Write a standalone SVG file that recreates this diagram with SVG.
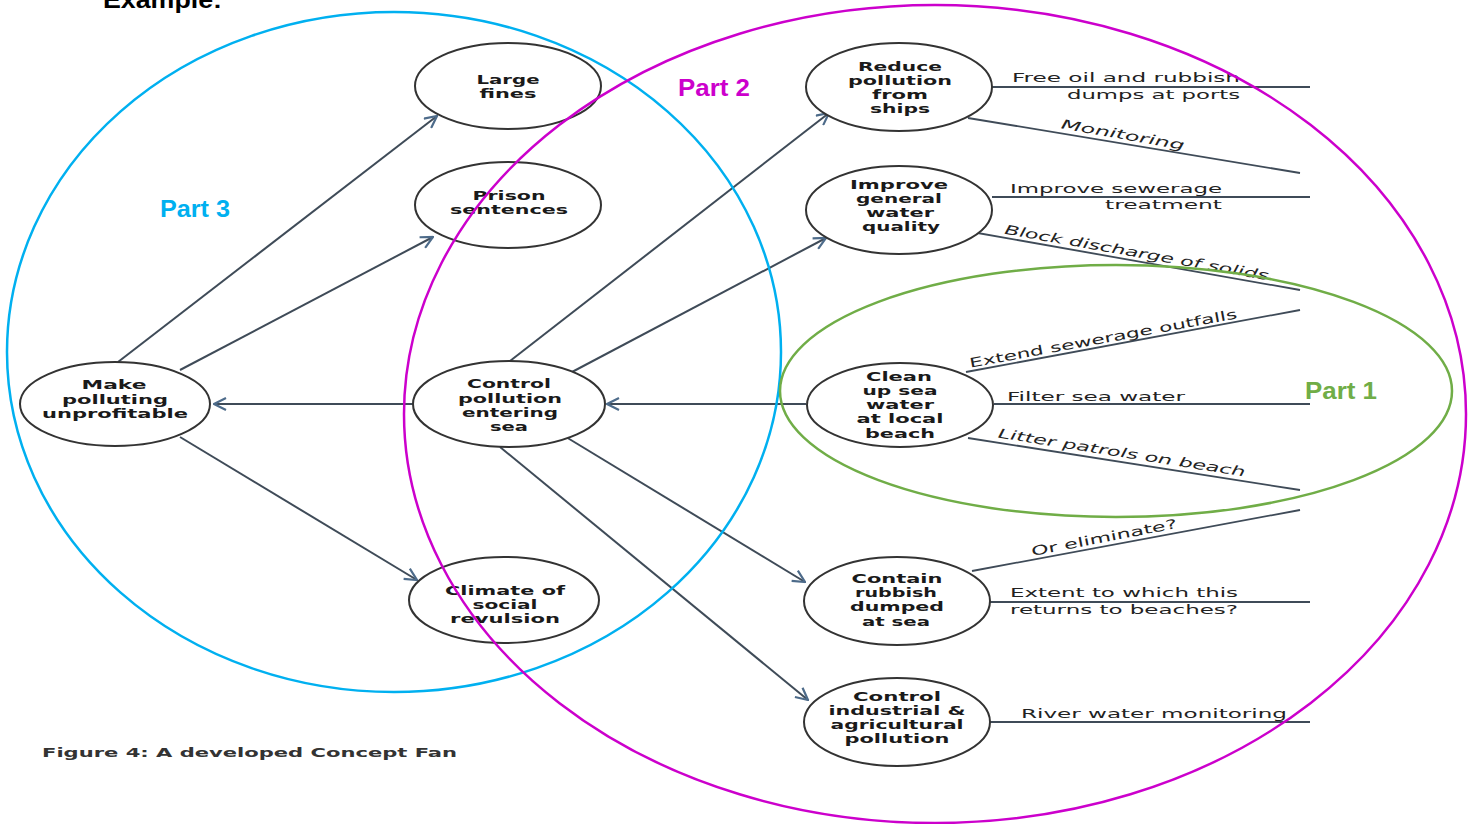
<svg xmlns="http://www.w3.org/2000/svg" width="1473" height="824" viewBox="0 0 1473 824">
<defs>
<marker id="arr" viewBox="0 0 14 14" refX="13" refY="7" markerWidth="14" markerHeight="14" markerUnits="userSpaceOnUse" orient="auto">
<path d="M1,1 L13,7 L1,13" fill="none" stroke="#4d6b8a" stroke-width="2.2"/>
</marker>
<style>
.node ellipse{fill:#fff;stroke:#333;stroke-width:2}
.node text{font-family:"DejaVu Sans",Verdana,sans-serif;font-weight:bold;font-size:13px;fill:#1a1a1a;text-anchor:middle}
.arrow{stroke:#3f4b58;stroke-width:2;fill:none;marker-end:url(#arr)}
.line{stroke:#3f4b58;stroke-width:1.8;fill:none}
.lbl{font-family:"DejaVu Sans",Verdana,sans-serif;font-size:13px;fill:#222}
.it{font-style:italic}
.region{fill:none;stroke-width:2.5}
.part{font-family:"Liberation Sans",Arial,sans-serif;font-weight:bold;font-size:24px}
</style>
</defs>
<rect width="1473" height="824" fill="#fff"/>
<text x="103" y="8" font-family="Liberation Sans,Arial,sans-serif" font-weight="bold" font-size="24" textLength="119" lengthAdjust="spacingAndGlyphs" fill="#000">Example:</text>

<g id="connectors">
<line class="arrow" x1="118" y1="362" x2="437" y2="116"/>
<line class="arrow" x1="180" y1="370" x2="433" y2="237"/>
<line class="arrow" x1="180" y1="437" x2="417" y2="580"/>
<line class="arrow" x1="413" y1="404" x2="214" y2="404"/>
<line class="arrow" x1="806" y1="404" x2="607" y2="404"/>
<line class="arrow" x1="510" y1="361" x2="829" y2="113"/>
<line class="arrow" x1="572" y1="372" x2="826" y2="238"/>
<line class="arrow" x1="566" y1="437" x2="805" y2="582"/>
<line class="arrow" x1="500" y1="447" x2="808" y2="700"/>

<line class="line" x1="991" y1="87" x2="1310" y2="87"/>
<line class="line" x1="968" y1="118" x2="1300" y2="173"/>
<line class="line" x1="992" y1="197" x2="1310" y2="197"/>
<line class="line" x1="972" y1="232" x2="1300" y2="290"/>
<line class="line" x1="966" y1="372" x2="1300" y2="310"/>
<line class="line" x1="994" y1="404" x2="1310" y2="404"/>
<line class="line" x1="968" y1="438" x2="1300" y2="490"/>
<line class="line" x1="972" y1="571" x2="1300" y2="510"/>
<line class="line" x1="990" y1="602" x2="1310" y2="602"/>
<line class="line" x1="990" y1="722" x2="1310" y2="722"/>

<text class="lbl" x="1012" y="82" textLength="228" lengthAdjust="spacingAndGlyphs">Free oil and rubbish</text>
<text class="lbl" x="1067" y="99" textLength="173" lengthAdjust="spacingAndGlyphs">dumps at ports</text>
<text class="lbl it" text-anchor="middle" transform="translate(1122,139) rotate(10)" textLength="125" lengthAdjust="spacingAndGlyphs">Monitoring</text>
<text class="lbl" x="1010" y="193" textLength="212" lengthAdjust="spacingAndGlyphs">Improve sewerage</text>
<text class="lbl" x="1105" y="209" textLength="117" lengthAdjust="spacingAndGlyphs">treatment</text>
<text class="lbl it" text-anchor="middle" transform="translate(1136,257) rotate(10)" textLength="268" lengthAdjust="spacingAndGlyphs">Block discharge of solids</text>
<text class="lbl" text-anchor="middle" transform="translate(1104,343) rotate(-10.5)" textLength="272" lengthAdjust="spacingAndGlyphs">Extend sewerage outfalls</text>
<text class="lbl" x="1007" y="401" textLength="178" lengthAdjust="spacingAndGlyphs">Filter sea water</text>
<text class="lbl it" text-anchor="middle" transform="translate(1121,457) rotate(9)" textLength="250" lengthAdjust="spacingAndGlyphs">Litter patrols on beach</text>
<text class="lbl" text-anchor="middle" transform="translate(1105,542) rotate(-11)" textLength="148" lengthAdjust="spacingAndGlyphs">Or eliminate?</text>
<text class="lbl" x="1010" y="597" textLength="228" lengthAdjust="spacingAndGlyphs">Extent to which this</text>
<text class="lbl" x="1010" y="614" textLength="228" lengthAdjust="spacingAndGlyphs">returns to beaches?</text>
<text class="lbl" x="1021" y="718" textLength="266" lengthAdjust="spacingAndGlyphs">River water monitoring</text>
</g>

<g id="n-large" class="node">
<ellipse cx="508" cy="86" rx="93" ry="43"/>
<text x="508" y="84" textLength="63" lengthAdjust="spacingAndGlyphs">Large</text>
<text x="508" y="98" textLength="57" lengthAdjust="spacingAndGlyphs">fines</text>
</g>
<g id="n-prison" class="node">
<ellipse cx="508" cy="205" rx="93" ry="43"/>
<text x="509" y="200" textLength="73" lengthAdjust="spacingAndGlyphs">Prison</text>
<text x="509" y="214" textLength="118" lengthAdjust="spacingAndGlyphs">sentences</text>
</g>
<g id="n-make" class="node">
<ellipse cx="115" cy="404" rx="95" ry="42"/>
<text x="114" y="389" textLength="65" lengthAdjust="spacingAndGlyphs">Make</text>
<text x="115" y="404" textLength="106" lengthAdjust="spacingAndGlyphs">polluting</text>
<text x="115" y="418" textLength="146" lengthAdjust="spacingAndGlyphs">unprofitable</text>
</g>
<g id="n-control" class="node">
<ellipse cx="509" cy="404" rx="96" ry="43"/>
<text x="509" y="388" textLength="84" lengthAdjust="spacingAndGlyphs">Control</text>
<text x="510" y="403" textLength="104" lengthAdjust="spacingAndGlyphs">pollution</text>
<text x="510" y="417" textLength="96" lengthAdjust="spacingAndGlyphs">entering</text>
<text x="509" y="431" textLength="38" lengthAdjust="spacingAndGlyphs">sea</text>
</g>
<g id="n-climate" class="node">
<ellipse cx="504" cy="600" rx="95" ry="43"/>
<text x="505" y="595" textLength="120" lengthAdjust="spacingAndGlyphs">Climate of</text>
<text x="505" y="609" textLength="65" lengthAdjust="spacingAndGlyphs">social</text>
<text x="505" y="623" textLength="110" lengthAdjust="spacingAndGlyphs">revulsion</text>
</g>
<g id="n-reduce" class="node">
<ellipse cx="899" cy="87" rx="93" ry="44"/>
<text x="900" y="71" textLength="84" lengthAdjust="spacingAndGlyphs">Reduce</text>
<text x="900" y="85" textLength="104" lengthAdjust="spacingAndGlyphs">pollution</text>
<text x="900" y="99" textLength="56" lengthAdjust="spacingAndGlyphs">from</text>
<text x="900" y="113" textLength="60" lengthAdjust="spacingAndGlyphs">ships</text>
</g>
<g id="n-improve" class="node">
<ellipse cx="899" cy="210" rx="93" ry="44"/>
<text x="899" y="189" textLength="98" lengthAdjust="spacingAndGlyphs">Improve</text>
<text x="899" y="203" textLength="86" lengthAdjust="spacingAndGlyphs">general</text>
<text x="900" y="217" textLength="68" lengthAdjust="spacingAndGlyphs">water</text>
<text x="901" y="231" textLength="78" lengthAdjust="spacingAndGlyphs">quality</text>
</g>
<g id="n-clean" class="node">
<ellipse cx="900" cy="405" rx="93" ry="42"/>
<text x="899" y="381" textLength="66" lengthAdjust="spacingAndGlyphs">Clean</text>
<text x="900" y="395" textLength="75" lengthAdjust="spacingAndGlyphs">up sea</text>
<text x="900" y="409" textLength="68" lengthAdjust="spacingAndGlyphs">water</text>
<text x="900" y="423" textLength="87" lengthAdjust="spacingAndGlyphs">at local</text>
<text x="900" y="438" textLength="70" lengthAdjust="spacingAndGlyphs">beach</text>
</g>
<g id="n-contain" class="node">
<ellipse cx="897" cy="601" rx="93" ry="44"/>
<text x="897" y="583" textLength="91" lengthAdjust="spacingAndGlyphs">Contain</text>
<text x="896" y="597" textLength="82" lengthAdjust="spacingAndGlyphs">rubbish</text>
<text x="897" y="611" textLength="94" lengthAdjust="spacingAndGlyphs">dumped</text>
<text x="896" y="626" textLength="68" lengthAdjust="spacingAndGlyphs">at sea</text>
</g>
<g id="n-industrial" class="node">
<ellipse cx="897" cy="722" rx="93" ry="44"/>
<text x="897" y="701" textLength="88" lengthAdjust="spacingAndGlyphs">Control</text>
<text x="897" y="715" textLength="137" lengthAdjust="spacingAndGlyphs">industrial &amp;</text>
<text x="897" y="729" textLength="133" lengthAdjust="spacingAndGlyphs">agricultural</text>
<text x="897" y="743" textLength="105" lengthAdjust="spacingAndGlyphs">pollution</text>
</g>

<text x="42" y="757" font-family="DejaVu Sans,Verdana,sans-serif" font-weight="bold" font-size="13" fill="#333" textLength="415" lengthAdjust="spacingAndGlyphs">Figure 4:  A developed Concept Fan</text>

<g id="regions">
<ellipse class="region" cx="394" cy="352" rx="387" ry="340" stroke="#00b0f0"/>
<ellipse class="region" cx="935" cy="414" rx="531" ry="409" stroke="#cc00cc"/>
<ellipse class="region" cx="1116" cy="391" rx="336" ry="126" stroke="#70ad47"/>
<text class="part" x="160" y="217" fill="#00b0f0" textLength="70" lengthAdjust="spacingAndGlyphs">Part 3</text>
<text class="part" x="678" y="96" fill="#cc00cc" textLength="72" lengthAdjust="spacingAndGlyphs">Part 2</text>
<text class="part" x="1305" y="399" fill="#70ad47" textLength="72" lengthAdjust="spacingAndGlyphs">Part 1</text>
</g>
</svg>
